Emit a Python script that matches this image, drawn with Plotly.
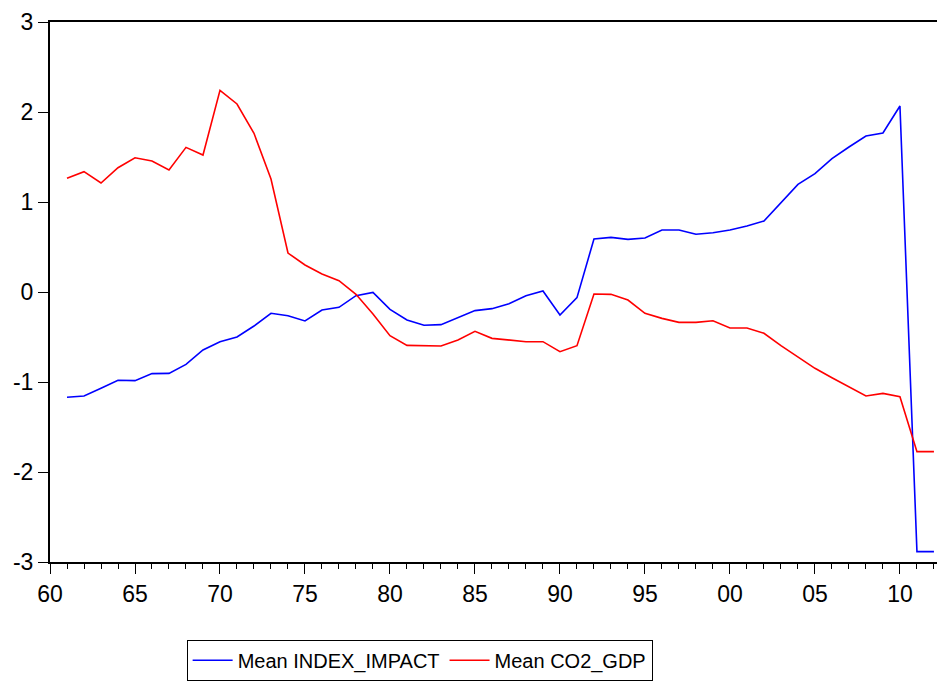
import plotly.graph_objects as go

years = list(range(1961, 2013))

index_impact = [
    -1.170, -1.156, -1.070, -0.981, -0.985, -0.907, -0.904, -0.804, -0.644, -0.552,
    -0.500, -0.378, -0.237, -0.263, -0.322, -0.200, -0.170, -0.041, -0.004, -0.193,
    -0.311, -0.370, -0.363, -0.285, -0.207, -0.185, -0.130, -0.041, 0.011, -0.256,
    -0.063, 0.589, 0.607, 0.585, 0.600, 0.689, 0.689, 0.641, 0.659, 0.689,
    0.733, 0.789, 0.993, 1.196, 1.315, 1.481, 1.611, 1.733, 1.767, 2.067,
    -2.885, -2.885,
]

co2_gdp = [
    1.263, 1.337, 1.211, 1.381, 1.492, 1.456, 1.356, 1.607, 1.522, 2.241,
    2.089, 1.763, 1.256, 0.433, 0.300, 0.200, 0.126, -0.026, -0.245, -0.485,
    -0.593, -0.593, -0.600, -0.533, -0.437, -0.515, -0.530, -0.552, -0.552, -0.663,
    -0.596, -0.022, -0.026, -0.089, -0.237, -0.293, -0.337, -0.337, -0.319, -0.400,
    -0.400, -0.459, -0.596, -0.719, -0.848, -0.952, -1.052, -1.156, -1.126, -1.163,
    -1.774, -1.774,
]

x_tickvals = [1960, 1965, 1970, 1975, 1980, 1985, 1990, 1995, 2000, 2005, 2010]
x_ticktext = ["60", "65", "70", "75", "80", "85", "90", "95", "00", "05", "10"]
y_tickvals = [-3, -2, -1, 0, 1, 2, 3]
y_ticktext = ["-3", "-2", "-1", "0", "1", "2", "3"]

fig = go.Figure()
fig.add_trace(go.Scatter(x=years, y=index_impact, mode="lines",
                         name="Mean INDEX_IMPACT",
                         line=dict(color="#0000FF", width=1.6)))
fig.add_trace(go.Scatter(x=years, y=co2_gdp, mode="lines",
                         name="Mean CO2_GDP",
                         line=dict(color="#FF0000", width=1.6)))

# page body adds an 8px offset; figure sized so the plot lands where the reference has it
fig.update_layout(
    width=937, height=674,
    margin=dict(l=42, r=0, t=14, b=120, autoexpand=False),
    paper_bgcolor="white", plot_bgcolor="white",
    font=dict(family="Liberation Sans, Arial, sans-serif", color="black", size=22),
    showlegend=True,
    legend=dict(orientation="h", x=0.413, xanchor="center", y=-0.144, yanchor="top",
                bordercolor="black", borderwidth=1, bgcolor="white",
                font=dict(family="Liberation Sans, Arial", size=20),
                itemwidth=40, tracegroupgap=0),
)
fig.update_xaxes(
    range=[1960, 2012.65], tickvals=x_tickvals, ticktext=x_ticktext,
    ticks="outside", ticklen=10, tickwidth=1, tickcolor="black",
    showline=True, linecolor="black", linewidth=2, mirror=True,
    showgrid=False, zeroline=False, automargin=False,
    minor=dict(dtick=1, tick0=1960, ticks="outside", ticklen=5, tickwidth=1,
               tickcolor="black", showgrid=False),
    tickfont=dict(size=23),
)
fig.update_yaxes(
    range=[-3, 3], tickvals=y_tickvals, ticktext=y_ticktext,
    ticks="outside", ticklen=10, tickwidth=1, tickcolor="black",
    showline=True, linecolor="black", linewidth=2, mirror=False,
    showgrid=False, zeroline=False, automargin=False, tickfont=dict(size=23),
)

fig.write_html("out.html")
